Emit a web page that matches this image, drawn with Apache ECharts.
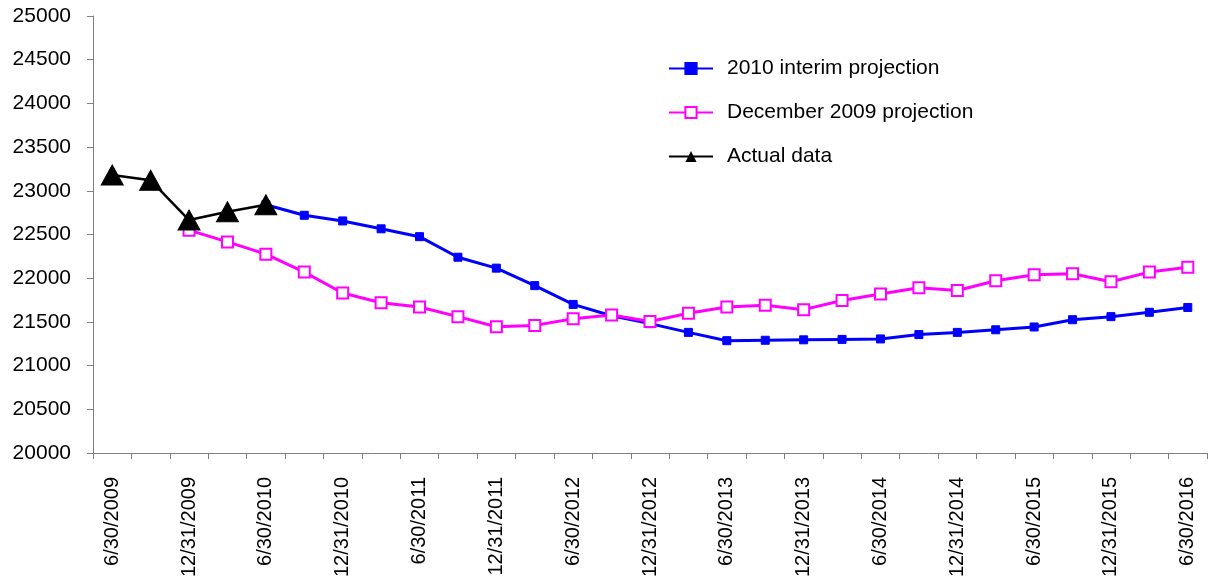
<!DOCTYPE html>
<html>
<head>
<meta charset="utf-8">
<script src="https://cdn.jsdelivr.net/npm/echarts@6/dist/echarts.min.js"></script>
<style>
html,body{margin:0;padding:0;background:#fff;}
#chart{width:1208px;height:583px;}
</style>
</head>
<body>
<div id="chart"></div>
<script>
const categories = [
  '6/30/2009','9/30/2009','12/31/2009','3/31/2010',
  '6/30/2010','9/30/2010','12/31/2010','3/31/2011',
  '6/30/2011','9/30/2011','12/31/2011','3/31/2012',
  '6/30/2012','9/30/2012','12/31/2012','3/31/2013',
  '6/30/2013','9/30/2013','12/31/2013','3/31/2014',
  '6/30/2014','9/30/2014','12/31/2014','3/31/2015',
  '6/30/2015','9/30/2015','12/31/2015','3/31/2016',
  '6/30/2016'
];
const interim2010 = [
  null, null, null, null,
  22840, 22720, 22655, 22565,
  22475, 22240, 22115, 21915,
  21700, 21570, 21480, 21380,
  21285, 21290, 21295, 21300,
  21305, 21355, 21380, 21410,
  21442, 21525, 21560, 21610,
  21665
];
const december2009 = [
  null, null, 22550, 22415,
  22275, 22070, 21830, 21720,
  21670, 21560, 21445, 21460,
  21535, 21580, 21505, 21600,
  21670, 21690, 21640, 21745,
  21820, 21890, 21860, 21970,
  22040, 22050, 21960, 22070,
  22125
];
const actual = [
  23180, 23120, 22665, 22760,
  22840, null, null, null,
  null, null, null, null,
  null, null, null, null,
  null, null, null, null,
  null, null, null, null,
  null, null, null, null,
  null
];
const seriesNames = ['2010 interim projection', 'December 2009 projection', 'Actual data'];

const FONT = 'Liberation Sans, Arial, sans-serif';
const chart = echarts.init(document.getElementById('chart'), null, {renderer: 'canvas'});
chart.setOption({
  animation: false,
  backgroundColor: '#ffffff',
  grid: {left: 93, right: 1, top: 16, bottom: 130, containLabel: false},
  legend: {
    orient: 'vertical',
    left: 668,
    top: 58,
    padding: 0,
    itemWidth: 44,
    itemHeight: 14,
    itemGap: 23,
    textStyle: {fontFamily: FONT, fontSize: 21, color: '#000', padding: [0, 0, 0, 9]},
    data: seriesNames
  },
  xAxis: {
    type: 'category',
    data: categories,
    boundaryGap: true,
    axisLine: {lineStyle: {color: '#808080', width: 1}},
    axisTick: {show: true, interval: 0, length: 6, lineStyle: {color: '#808080'}},
    axisLabel: {
      interval: 1,
      rotate: 90,
      margin: 24,
      fontFamily: FONT,
      fontSize: 20,
      color: '#000'
    },
    splitLine: {show: false}
  },
  yAxis: {
    type: 'value',
    min: 20000,
    max: 25000,
    interval: 500,
    axisLine: {show: true, lineStyle: {color: '#808080', width: 1}},
    axisTick: {show: true, length: 6, lineStyle: {color: '#808080'}},
    axisLabel: {
      margin: 22,
      fontFamily: FONT,
      fontSize: 21,
      color: '#000',
      formatter: function (v) { return String(v); }
    },
    splitLine: {show: false}
  },
  series: [
    {
      name: seriesNames[0],
      type: 'line',
      data: interim2010,
      symbol: 'rect',
      symbolSize: 8,
      lineStyle: {color: '#0000ff', width: 3},
      itemStyle: {color: '#0000ff', borderColor: '#0000ff', borderWidth: 1},
      z: 2
    },
    {
      name: seriesNames[1],
      type: 'line',
      data: december2009,
      symbol: 'rect',
      symbolSize: 11,
      lineStyle: {color: '#ff00ff', width: 3},
      itemStyle: {color: '#ffffff', borderColor: '#ff00ff', borderWidth: 2},
      z: 3
    },
    {
      name: seriesNames[2],
      type: 'line',
      data: actual,
      symbol: 'triangle',
      symbolSize: [22, 20],
      lineStyle: {color: '#000000', width: 2.5},
      itemStyle: {color: '#000000', borderColor: '#000000'},
      z: 4
    }
  ]
});
</script>
</body>
</html>
